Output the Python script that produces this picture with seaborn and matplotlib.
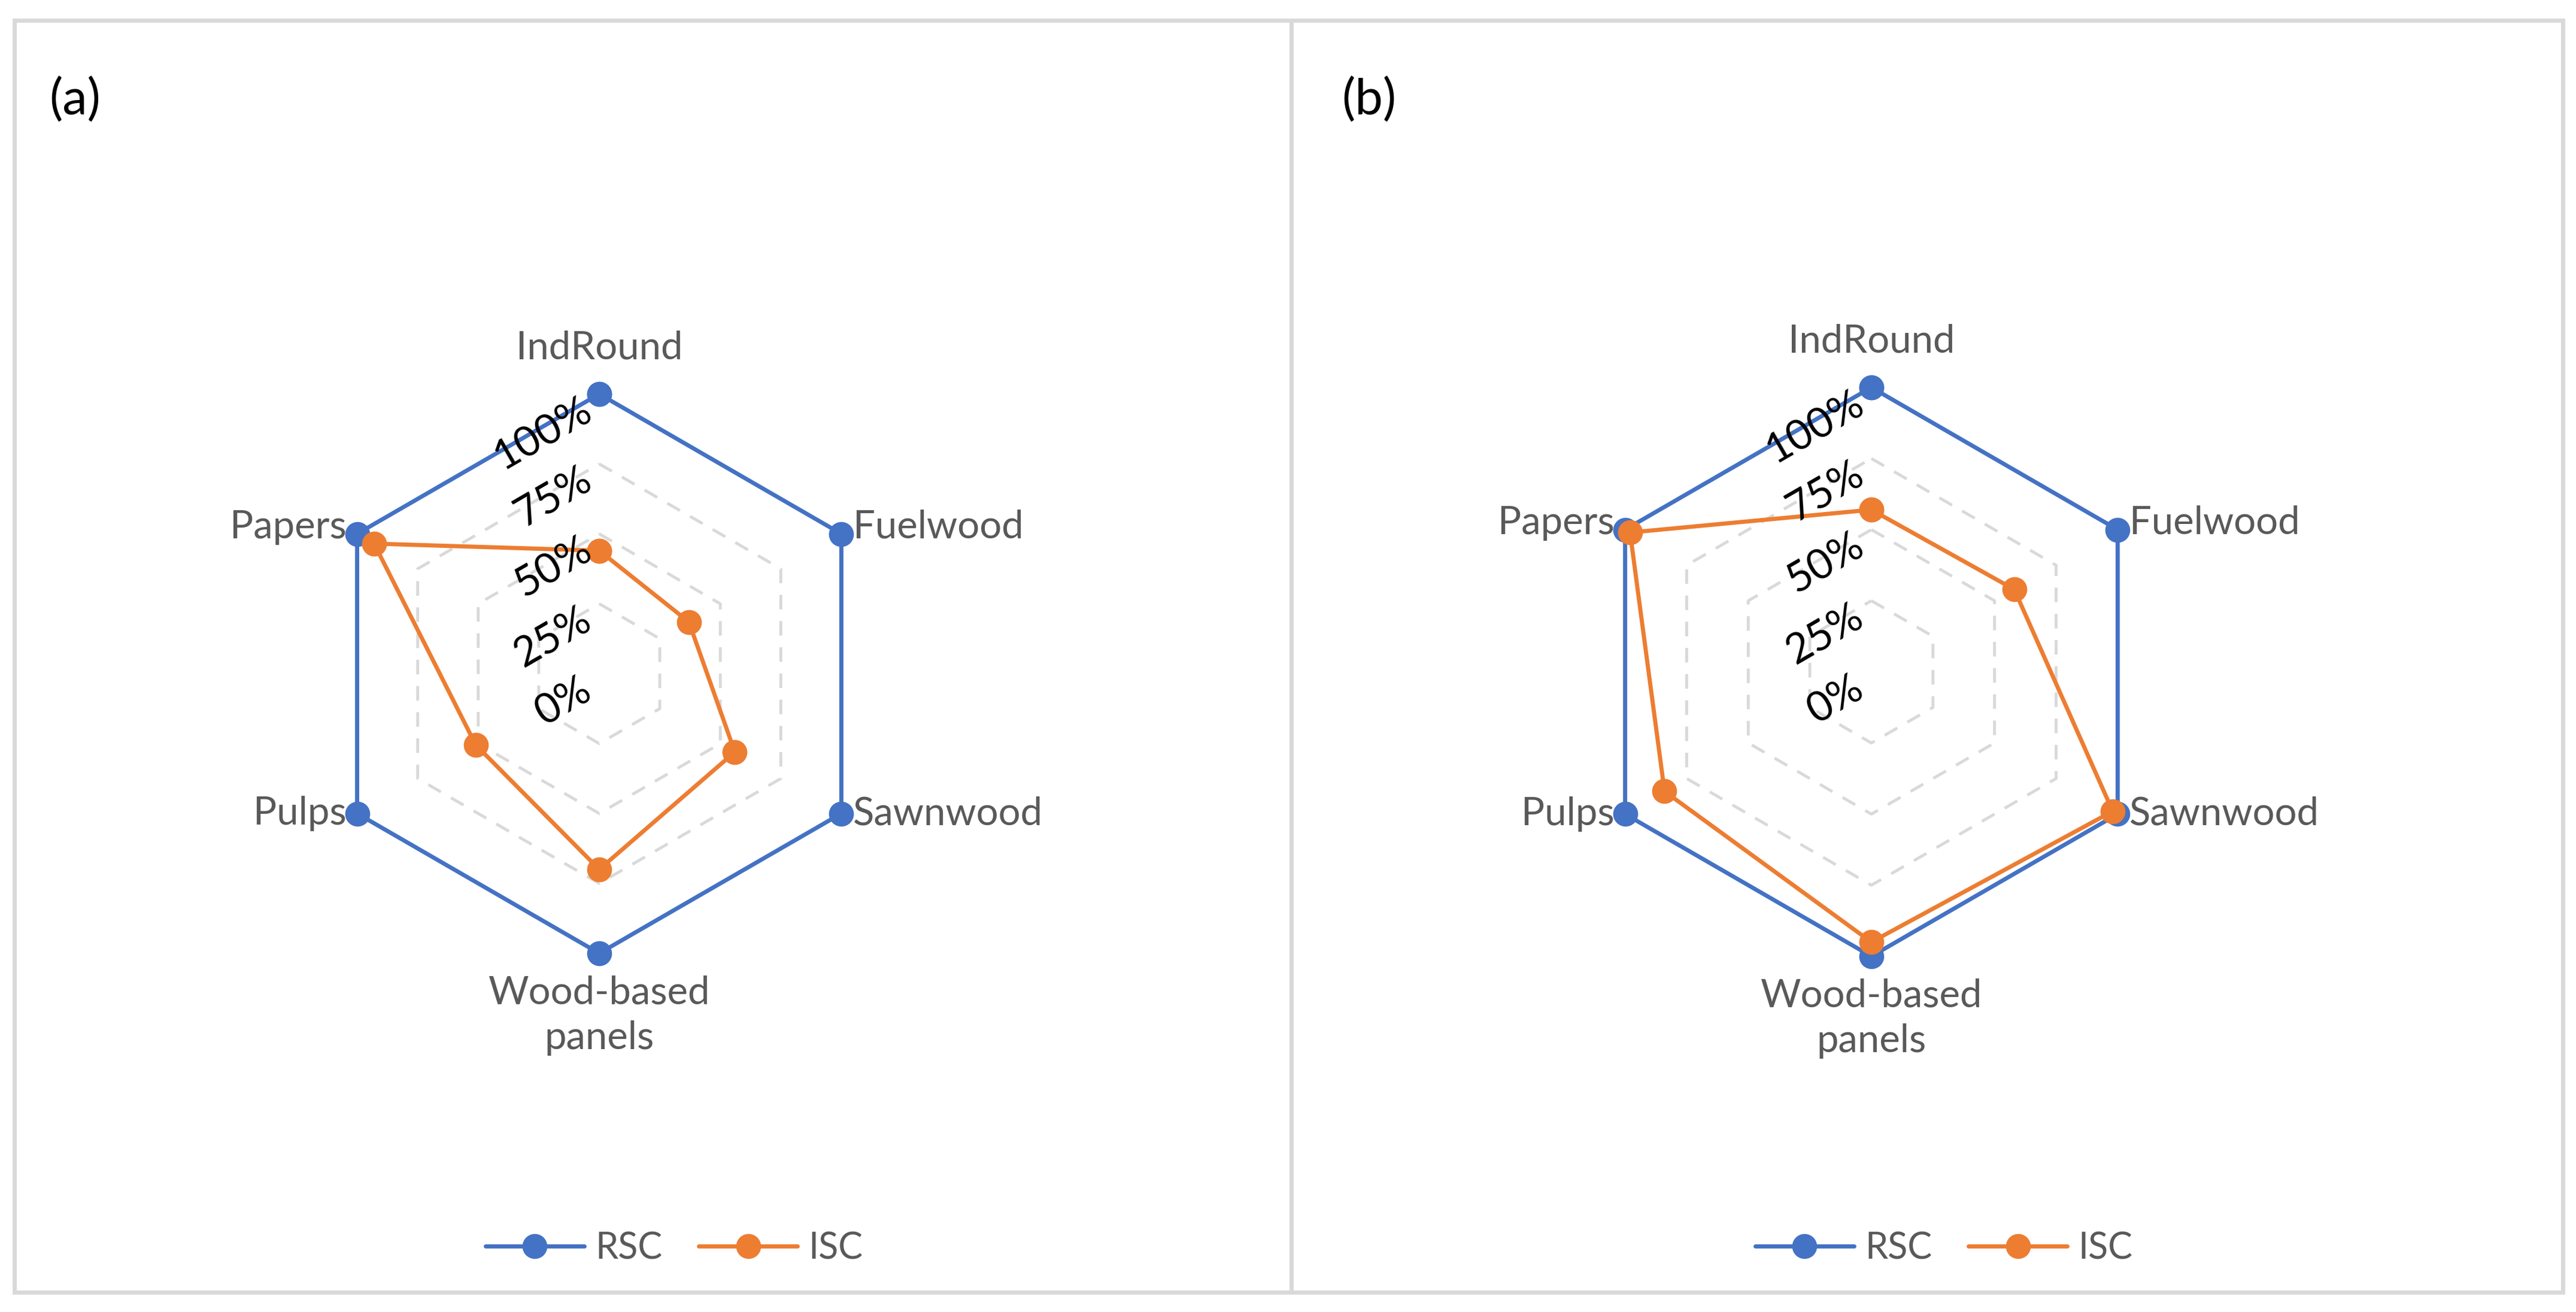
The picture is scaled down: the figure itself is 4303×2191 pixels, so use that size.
import numpy as np
import pandas as pd
import seaborn as sns
import matplotlib.pyplot as plt
from matplotlib.patches import Rectangle
from matplotlib.transforms import offset_copy

# ========== data ==========
categories = ['IndRound', 'Fuelwood', 'Sawnwood', 'Wood-based\npanels', 'Pulps', 'Papers']
rsc_a = [1.00, 1.00, 1.00, 1.00, 1.00, 1.00]
isc_a = [0.44, 0.37, 0.56, 0.70, 0.51, 0.93]
rsc_b = [1.00, 1.00, 1.00, 1.00, 1.00, 1.00]
isc_b = [0.57, 0.58, 0.98, 0.95, 0.84, 0.98]
grid_levels = [0.25, 0.50, 0.75, 1.00]
tick_vals = [0.0, 0.25, 0.50, 0.75, 1.00]
tick_labels = ['0%', '25%', '50%', '75%', '100%']

BLUE = '#4472C4'
ORANGE = '#ED7D31'
GRID = '#D9D9D9'
LABEL = '#595959'

sns.set_style('white')
plt.rcParams['font.family'] = ['Lato', 'DejaVu Sans']

W, H = 4303, 2191
fig = plt.figure(figsize=(W / 100, H / 100), dpi=100)

n = len(categories)
theta = np.linspace(0, 2 * np.pi, n + 1)  # closed loop


def radar(rect, rsc, isc, tag, tag_x, leg_x):
    ax = fig.add_axes(rect, projection='polar')
    ax.set_theta_zero_location('N')
    ax.set_theta_direction(-1)
    ax.set_ylim(0, 1)
    ax.grid(False)
    ax.spines['polar'].set_visible(False)
    ax.set_xticks([])
    ax.set_yticks([])
    ax.patch.set_alpha(0)

    # hexagon gridlines
    for lv in grid_levels:
        ax.plot(theta, [lv] * (n + 1), color=GRID, lw=3.5,
                dashes=(5, 4), zorder=1, clip_on=False)

    df = pd.DataFrame({
        'theta': np.concatenate([theta, theta]),
        'value': rsc + rsc[:1] + isc + isc[:1],
        'series': ['RSC'] * (n + 1) + ['ISC'] * (n + 1),
    })
    for name, col in [('RSC', BLUE), ('ISC', ORANGE)]:
        sub = df[df['series'] == name]
        sns.lineplot(data=sub, x='theta', y='value', ax=ax, sort=False,
                     estimator=None, color=col, lw=5, marker='o',
                     markersize=30, markeredgewidth=0, label=name,
                     clip_on=False, zorder=3)
    ax.set_xlabel('')
    ax.set_ylabel('')
    ax.set_ylim(0, 1)

    # value axis labels
    tr = offset_copy(ax.transData, fig=fig, x=-13, y=-16, units='points')
    for v, t in zip(tick_vals, tick_labels):
        ax.text(0, v, t, transform=tr, rotation=30, rotation_mode='anchor',
                ha='right', va='center', fontsize=50, color='black', zorder=4)

    # category labels
    place = [
        (0, 34, 'center', 'bottom'),
        (14, 8, 'left', 'center'),
        (14, 0, 'left', 'center'),
        (0, -26, 'center', 'top'),
        (-13, 0, 'right', 'center'),
        (-13, 8, 'right', 'center'),
    ]
    for i, (dx, dy, ha, va) in enumerate(place):
        trc = offset_copy(ax.transData, fig=fig, x=dx, y=dy, units='points')
        ax.text(theta[i], 1.0, categories[i], transform=trc, ha=ha, va=va,
                fontsize=47, color=LABEL, linespacing=1.35, zorder=4)

    leg = ax.legend(loc='center', bbox_to_anchor=(leg_x, 0.0484),
                    bbox_transform=fig.transFigure, ncol=2, frameon=False,
                    fontsize=44, handlelength=2.7, handletextpad=0.3,
                    columnspacing=1.0)
    for txt in leg.get_texts():
        txt.set_color(LABEL)

    fig.text(tag_x, 0.9233, tag, fontsize=60, color='black',
             ha='left', va='center')
    return ax


radar([0.12410, 0.27339, 0.21706, 0.42629], rsc_a, isc_a, '(a)', 0.0191, 0.2617)
radar([0.61608, 0.27111, 0.22078, 0.43359], rsc_b, isc_b, '(b)', 0.5208, 0.7546)

# panel frames
for x0, x1 in [(24 / W, 2157 / W), (2157 / W, 4281 / W)]:
    fig.add_artist(Rectangle((x0, 1 - 2158 / H), x1 - x0, (2158 - 34) / H,
                             transform=fig.transFigure, fill=False,
                             edgecolor=GRID, lw=5))

fig.savefig('out.png', dpi=100, facecolor='white')
